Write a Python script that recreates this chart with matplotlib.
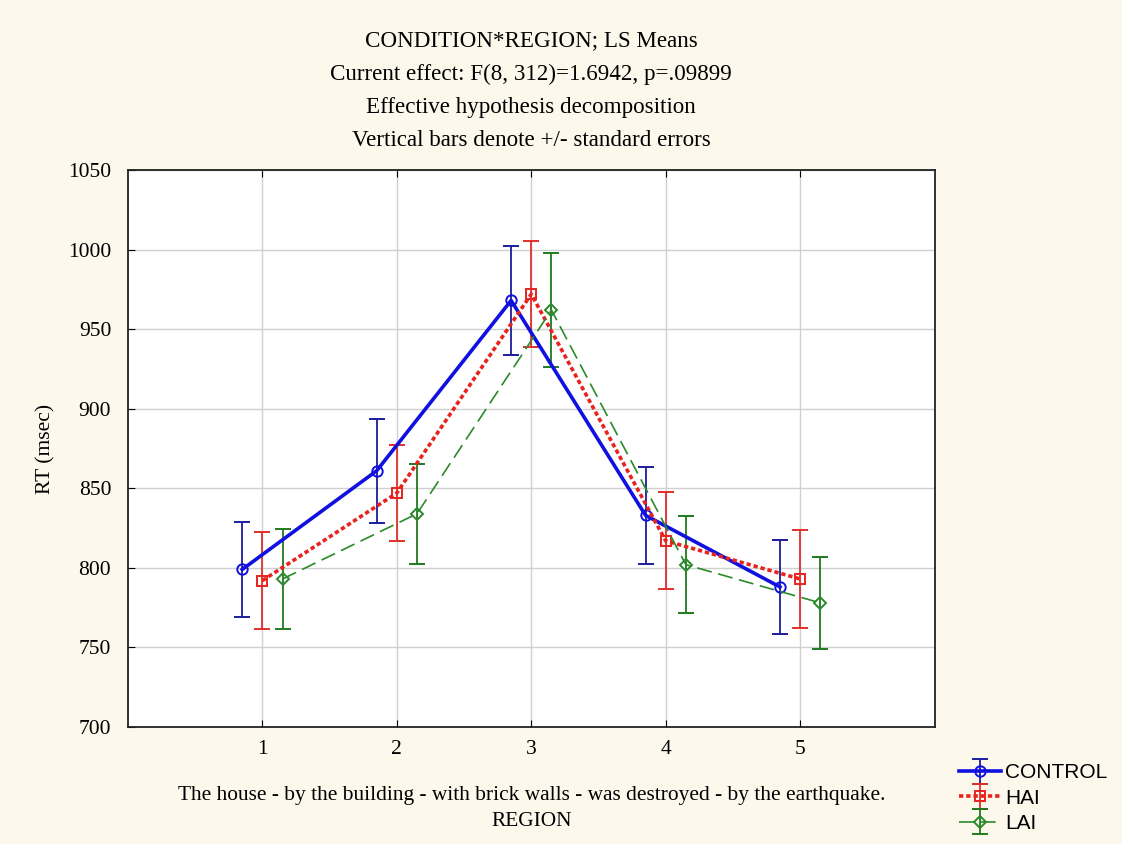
import matplotlib
matplotlib.use('Agg')
import matplotlib.pyplot as plt
from matplotlib.legend_handler import HandlerErrorbar
import numpy as np

# LS means and standard errors per region
regions = [1, 2, 3, 4, 5]
control_mean = [799, 861, 968, 833, 788]
control_se = [30, 32.5, 34.5, 30.5, 29.5]
hai_mean = [792, 847, 972, 817, 793]
hai_se = [30.5, 30, 33.5, 30.5, 30.5]
lai_mean = [793, 834, 962, 802, 778]
lai_se = [31.5, 31.5, 36, 30.5, 29]

title_lines = ['CONDITION*REGION; LS Means',
               'Current effect: F(8, 312)=1.6942, p=.09899',
               'Effective hypothesis decomposition',
               'Vertical bars denote +/- standard errors']
sentence = 'The house - by the building - with brick walls - was destroyed - by the earthquake.'

bg = '#fcf8ec'
plt.rcParams['font.family'] = ['Liberation Serif', 'DejaVu Serif']

fig = plt.figure(figsize=(11.22, 8.44), dpi=100, facecolor=bg)
ax = fig.add_axes([0.114, 0.1386, 0.719, 0.66])
ax.set_facecolor('white')

x = np.array(regions, dtype=float)

series = [
    ('CONTROL', control_mean, control_se, -0.15, dict(color='#1010e0', ecolor='#1c1c9c', lw=2.6,
                                                      ls='-', marker='o', ms=7.5)),
    ('HAI', hai_mean, hai_se, 0.0, dict(color='#e8231e', ecolor='#e0302a', lw=2.6,
                                         ls=(0, (1.2, 0.8)), marker='s', ms=7.5)),
    ('LAI', lai_mean, lai_se, 0.15, dict(color='#2a8a2a', ecolor='#1f7a1f', lw=1.2,
                                          ls=(0, (9, 4)), marker='D', ms=6)),
]

handles = []
for name, mean, se, off, st in series:
    h = ax.errorbar(x + off, mean, yerr=se, color=st['color'], ecolor=st['ecolor'],
                    elinewidth=1.3, capsize=6, capthick=1.3,
                    lw=st['lw'], ls=st['ls'], marker=st['marker'], ms=st['ms'],
                    mfc='none', mec=st['color'], mew=1.4, label=name)
    handles.append(h)

ax.set_xlim(0, 6)
ax.set_ylim(700, 1050)
ax.set_xticks(regions)
ax.set_yticks(np.arange(700, 1051, 50))
ax.grid(True, color='#d0d0d0', lw=1)
ax.set_axisbelow(True)
ax.tick_params(axis='both', direction='in', labelsize=15.5, length=5)
ax.tick_params(axis='y', pad=12)
ax.tick_params(axis='x', top=True, pad=9)
for sp in ax.spines.values():
    sp.set_linewidth(1.3)
    sp.set_color('#222222')

ax.set_ylabel('RT (msec)', fontsize=15.5, labelpad=9)
ax.set_xlabel(sentence + '\nREGION', fontsize=15.4, labelpad=20, linespacing=1.5)
ax.set_title('\n'.join(title_lines), fontsize=16.6, linespacing=1.76, pad=17)

fig.legend(handles, ['CONTROL', 'HAI', 'LAI'], loc='lower left',
           bbox_to_anchor=(0.842, -0.004), frameon=False, handlelength=2.0,
           handletextpad=0.2, labelspacing=0.3, borderaxespad=0.3,
           handler_map={type(handles[0]): HandlerErrorbar(yerr_size=0.6)},
           prop={'family': 'Liberation Sans', 'size': 15})

plt.savefig('out.png', dpi=100, facecolor=bg)
